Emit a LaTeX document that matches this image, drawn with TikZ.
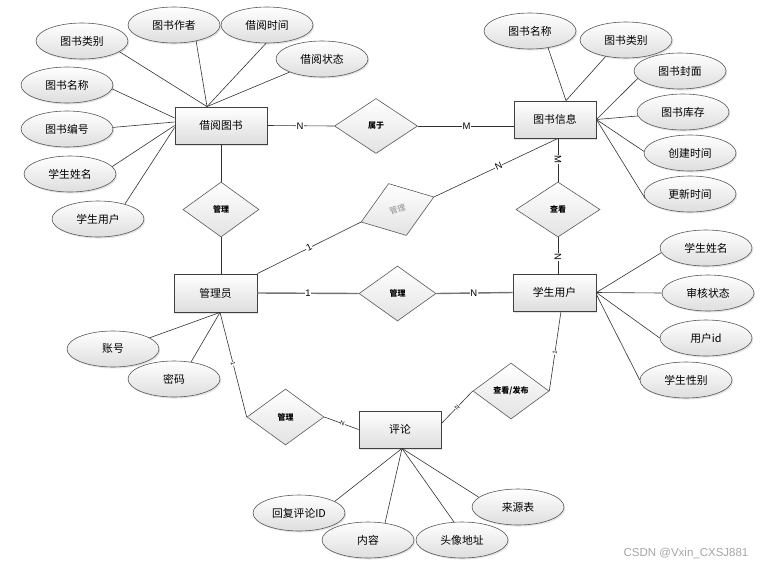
\documentclass[tikz,border=0pt]{standalone}
\usepackage{fontspec}
\setmainfont{Noto Sans CJK SC}
\newfontfamily\lab{Liberation Sans}
\usetikzlibrary{shapes.geometric,shadows}
\begin{document}
\begin{tikzpicture}[x=1pt,y=-1pt,
  shad/.style={drop shadow={opacity=0.22,shadow xshift=1.2pt,shadow yshift=-1.5pt}},
  attr/.style={ellipse,draw=black!65,line width=0.6pt,top color=white,bottom color=black!13,
    minimum width=92pt,minimum height=36pt,inner sep=0pt,font=\fontsize{10.8}{12}\selectfont,shad},
  ent/.style={rectangle,draw=black!75,line width=0.8pt,top color=white,bottom color=black!13,
    minimum width=83pt,minimum height=37pt,inner sep=0pt,font=\fontsize{10.8}{12}\selectfont,shad},
  rel/.style={diamond,draw=black!65,line width=0.6pt,top color=white,bottom color=black!11,
    minimum width=77pt,minimum height=55pt,inner sep=0pt,font=\fontsize{8}{9}\selectfont\bfseries},
  ln/.style={draw=black!80,line width=0.6pt},
  thk/.style={draw=black!55,line width=1.4pt},
  card/.style={fill=white,inner sep=0.6pt,font=\lab\fontsize{9.5}{10}\selectfont},
  tiny/.style={fill=white,inner sep=0.3pt,font=\lab\fontsize{6}{6}\selectfont},
]
\useasboundingbox (0,0) rectangle (767,568);
\fill[white] (0,0) rectangle (767,568);

% entities
\node[ent,minimum width=92pt] (jy) at (221,125.5) {借阅图书};
\node[ent,minimum width=82pt] (tx) at (555,119.5) {图书信息};
\node[ent,minimum height=38pt] (gl) at (215.5,293) {管理员};
\node[ent] (su) at (554.5,292.5) {学生用户};
\node[ent,minimum width=82pt] (pl) at (400,429.5) {评论};

% relations
\node[rel,minimum width=83pt] (r1) at (376,126) {属于};
\node[rel,minimum width=76pt] (r2) at (221,209.5) {管理};
\node[rel,rotate=19,text=black!45,font=\fontsize{8}{9}\selectfont] (r3) at (397.5,209.5) {管理};
\node[rel,minimum width=84pt] (r4) at (558,209.5) {查看};
\node[rel] (r5) at (397.5,293.5) {管理};
\node[rel,minimum height=56pt] (r6) at (285.5,417) {管理};
\node[rel,minimum width=76pt,minimum height=56pt] (r7) at (511,391) {查看/发布};

% attributes of 借阅图书
\node[attr] (a1) at (82,41) {图书类别};
\node[attr] (a2) at (174,25) {图书作者};
\node[attr] (a3) at (267,25) {借阅时间};
\node[attr] (a4) at (322,59) {借阅状态};
\node[attr] (a5) at (67,85) {图书名称};
\node[attr] (a6) at (67,129) {图书编号};
\node[attr] (a7) at (70,174) {学生姓名};
\node[attr] (a8) at (98,219) {学生用户};

% attributes of 图书信息
\node[attr] (b1) at (530,31) {图书名称};
\node[attr] (b2) at (626,40) {图书类别};
\node[attr] (b3) at (680,71) {图书封面};
\node[attr] (b4) at (683,112) {图书库存};
\node[attr] (b5) at (690,153) {创建时间};
\node[attr] (b6) at (690,194) {更新时间};

% attributes of 学生用户
\node[attr] (c1) at (706,248) {学生姓名};
\node[attr] (c2) at (708,293) {审核状态};
\node[attr] (c3) at (706,338) {用户id};
\node[attr] (c4) at (686,380) {学生性别};

% attributes of 管理员
\node[attr] (d1) at (113,349) {账号};
\node[attr] (d2) at (174,379) {密码};

% attributes of 评论
\node[attr] (e1) at (299,513) {回复评论ID};
\node[attr] (e2) at (368,540) {内容};
\node[attr] (e3) at (462,540) {头像地址};
\node[attr] (e4) at (518,507) {来源表};

% attribute connectors
\draw[ln] (a1.-16) -- ([xshift=-14pt]jy.north);
\draw[ln] (a2.-36) -- ([xshift=-14pt]jy.north);
\draw[ln] (a3.-93) -- ([xshift=-14pt]jy.north);
\draw[ln] (a4.-158) -- ([xshift=-14pt]jy.north);
\draw[ln] (a5.-5) -- ([yshift=7.5pt]jy.west);
\draw[ln] (a6.2) -- ([yshift=3.5pt]jy.west);
\draw[ln] (a7.10) -- (jy.west);
\draw[ln] (a8.29) -- ([yshift=-2pt]jy.west);

\draw[ln] (b1.-43) -- ([xshift=11pt]tx.north);
\draw[ln] (b2.-141) -- ([xshift=11pt]tx.north);
\draw[ln] (b3.190) -- (tx.east);
\draw[ln] (b4.185) -- (tx.east);
\draw[ln] (b5.178) -- (tx.east);
\draw[ln] (b6.186) -- (tx.east);

\draw[ln] (c1.186) -- (su.east);
\draw[ln] (c2.west) -- (su.east);
\draw[ln] (c3.west) -- (su.east);
\draw[ln] (c4.west) -- ([yshift=-2pt]su.east);

\draw[ln] (d1.17) -- ([xshift=4.5pt]gl.south);
\draw[ln] (d2.45) -- ([xshift=4.5pt]gl.south);

\draw[ln] (e1.18) -- ([xshift=2pt]pl.south);
\draw[ln] (e2.45) -- ([xshift=2pt]pl.south);
\draw[ln] (e3.114) -- ([xshift=2pt]pl.south);
\draw[ln] (e4.166) -- ([xshift=2pt]pl.south);

% relationship connectors
\draw[ln] (jy.east) -- node[card,pos=0.49] {N} (r1.west);
\draw[ln] (r1.east) -- node[card,pos=0.51] {M} ([yshift=-6.5pt]tx.west);
\draw[ln] (jy.south) -- (r2.north);
\draw[ln] (r2.south) -- ([xshift=5.5pt]gl.north);
\draw[ln] (gl.north east) -- node[card,pos=0.5,sloped] {1} (r3.west);
\draw[ln] (r3.east) -- node[card,pos=0.52,sloped] {N} ([xshift=3pt]tx.south);
\draw[ln] ([xshift=3pt]tx.south) -- node[card,pos=0.48,sloped] {M} (r4.north);
\draw[ln] (r4.south) -- node[card,pos=0.54,sloped] {N} ([xshift=3.5pt]su.north);
\draw[thk] (gl.east) -- node[card,pos=0.5] {1} (r5.west);
\draw[thk] (r5.east) -- node[card,pos=0.49] {N} (su.west);
\draw[ln] ([xshift=4.5pt]gl.south) -- node[tiny,pos=0.49,sloped] {1} (r6.west);
\draw[ln] (r6.east) -- node[tiny,pos=0.53,sloped] {N} (pl.west);
\draw[ln] ([yshift=6pt]pl.east) -- node[tiny,pos=0.5,sloped] {N} (r7.west);
\draw[ln] ([xshift=6.5pt]su.south) -- node[tiny,pos=0.52,sloped] {1} (r7.east);

% watermark
\node[text=black!35,font=\lab\fontsize{11.5}{12}\selectfont,inner sep=0pt] (wm) at (686,553) {CSDN @Vxin\_CXSJ881};
\end{tikzpicture}
\end{document}
